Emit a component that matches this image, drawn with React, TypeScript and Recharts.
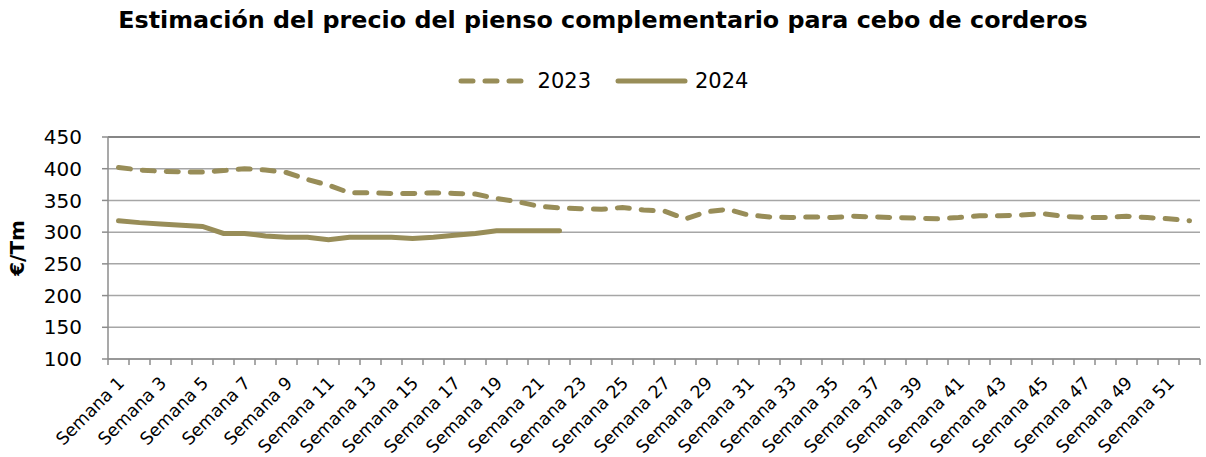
import { CartesianGrid, Legend, Line, LineChart, ReferenceLine, XAxis, YAxis } from 'recharts'

const weeks = Array.from({ length: 52 }, (_, i) => i + 1)
const weekLabels = weeks.map((w) => `Semana ${w}`)

const price2023 = [
  402, 398, 396, 395, 395, 397, 400, 398, 394, 383, 374, 362, 362, 361, 361, 362, 361, 360, 353, 348,
  341, 338, 337, 336, 339, 335, 333, 321, 332, 336, 327, 324, 323, 324, 323, 325, 324, 323, 322, 321,
  323, 326, 326, 327, 329, 325, 323, 323, 325, 323, 321, 318,
]

const price2024 = [318, 315, 313, 311, 309, 298, 298, 294, 292, 292, 288, 292, 292, 292, 290, 292, 295, 298, 302, 302, 302, 302]

const yTicks = [100, 150, 200, 250, 300, 350, 400, 450]

const data = weeks.map((week, i) => ({
  week,
  label: weekLabels[i],
  y2023: price2023[i],
  y2024: price2024[i] ?? null,
}))

const xTicks = [...weeks.flatMap((w) => [w - 0.5, w]), weeks.length + 0.5]

const LINE_COLOR = '#988d58'
const FONT = '"DejaVu Sans", sans-serif'

function WeekTick({ x, y, payload }: any) {
  const v = payload.value as number
  if (!Number.isInteger(v)) {
    return <line x1={x} x2={x} y1={y} y2={y + 6} stroke="#8c8c8c" strokeWidth={1.5} />
  }
  if (v % 2 === 0) return <g />
  const tx = x + 7
  const ty = y + 25
  return (
    <text x={tx} y={ty} transform={`rotate(-45 ${tx} ${ty})`} textAnchor="end" fontSize={17.5} fill="#000" fontFamily={FONT}>
      {weekLabels[v - 1]}
    </text>
  )
}

function LegendContent({ payload }: any) {
  const items = payload ?? []
  return (
    <div style={{ display: 'flex', justifyContent: 'center', alignItems: 'center', fontFamily: FONT, fontSize: 21, color: '#000' }}>
      {items.map((entry: any, i: number) => (
        <div key={entry.value} style={{ display: 'flex', alignItems: 'center', marginRight: i < items.length - 1 ? 24 : 0 }}>
          <svg width={74} height={12} style={{ marginRight: 6 }}>
            <line
              x1={3}
              x2={70}
              y1={6}
              y2={6}
              stroke={entry.color}
              strokeWidth={5}
              strokeLinecap="round"
              strokeDasharray={entry.payload?.strokeDasharray}
            />
          </svg>
          <span>{entry.value}</span>
        </div>
      ))}
    </div>
  )
}

export default function App() {
  return (
    <div style={{ position: 'absolute', left: 0, top: 0, width: 1206, height: 457, background: '#fff' }}>
      <div
        style={{
          position: 'absolute',
          top: 6,
          left: 0,
          width: 1206,
          textAlign: 'center',
          fontFamily: FONT,
          fontWeight: 'bold',
          fontSize: 23.8,
          color: '#000',
        }}
      >
        Estimación del precio del pienso complementario para cebo de corderos
      </div>
      <LineChart width={1206} height={457} data={data} margin={{ top: 137, right: 6, bottom: 0, left: 0 }}>
        <CartesianGrid horizontal vertical={false} stroke="#a6a6a6" strokeWidth={1.5} />
        <XAxis
          dataKey="week"
          type="number"
          domain={[0.5, 52.5]}
          ticks={xTicks}
          interval={0}
          height={98}
          tickLine={false}
          tickSize={0}
          tickMargin={0}
          tick={<WeekTick />}
          axisLine={{ stroke: '#8c8c8c', strokeWidth: 1.5 }}
        />
        <YAxis
          domain={[100, 450]}
          ticks={yTicks}
          interval={0}
          width={108}
          tickSize={6}
          tickMargin={20}
          tick={{ fontSize: 20, fill: '#000', fontFamily: FONT }}
          tickLine={{ stroke: '#8c8c8c', strokeWidth: 1.5 }}
          axisLine={{ stroke: '#8c8c8c', strokeWidth: 1.5 }}
          label={{
            content: ({ viewBox }: any) => {
              const cx = viewBox.x + 17
              const cy = viewBox.y + viewBox.height / 2
              return (
                <text x={cx} y={cy} transform={`rotate(-90 ${cx} ${cy})`} textAnchor="middle" dominantBaseline="central" fontSize={20} fontWeight="bold" fontFamily={FONT} fill="#000">
                  €/Tm
                </text>
              )
            },
          }}
        />
        <ReferenceLine y={450} stroke="#868686" strokeWidth={2} />
        <Legend verticalAlign="middle" align="center" content={<LegendContent />} wrapperStyle={{ top: 69, left: 0, width: 1206 }} />
        <Line
          dataKey="y2023"
          name="2023"
          stroke={LINE_COLOR}
          strokeWidth={5}
          strokeDasharray="12 12"
          strokeLinecap="round"
          dot={false}
          isAnimationActive={false}
        />
        <Line
          dataKey="y2024"
          name="2024"
          stroke={LINE_COLOR}
          strokeWidth={5}
          strokeLinecap="round"
          dot={false}
          isAnimationActive={false}
        />
      </LineChart>
    </div>
  )
}
